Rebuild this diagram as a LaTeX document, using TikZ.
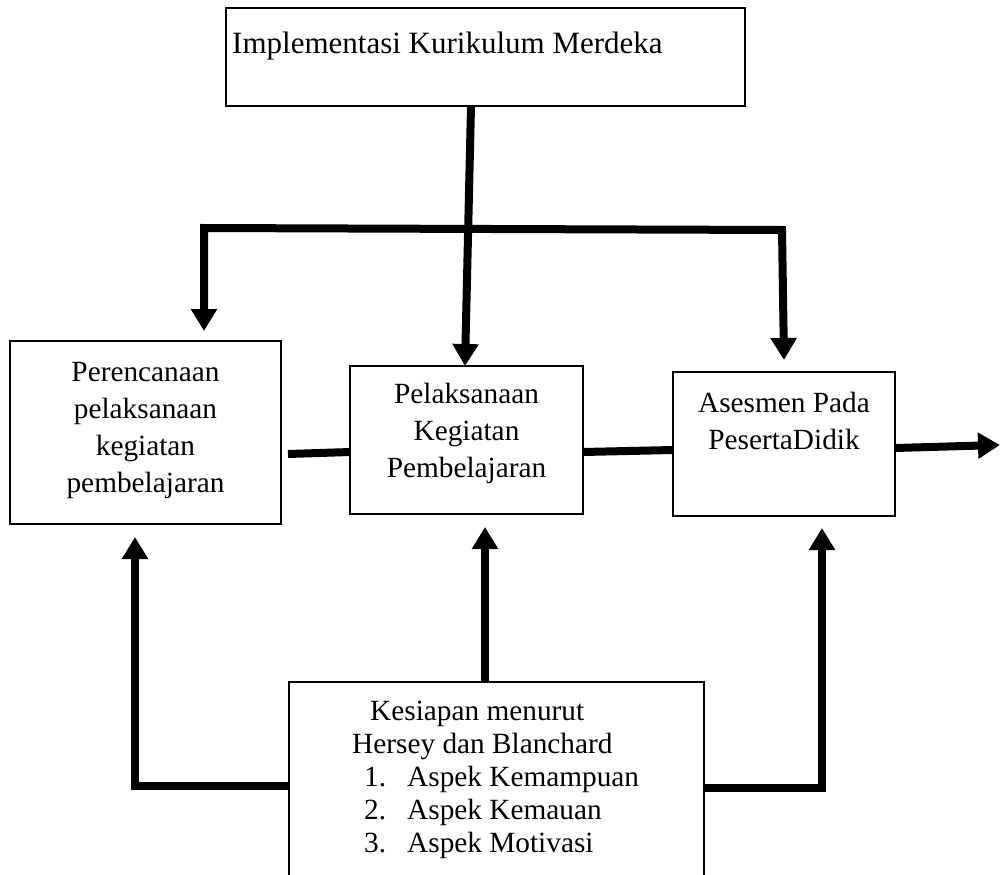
\documentclass[tikz,border=0pt]{standalone}
\usepackage{fontspec}
\setmainfont{Liberation Serif}
\usetikzlibrary{arrows.meta,calc}
\begin{document}
\begin{tikzpicture}[x=1pt,y=-1pt,
  box/.style={draw,line width=1.4pt,inner sep=0pt,outer sep=0pt},
  txt/.style={font=\fontsize{29.3}{37}\selectfont,inner sep=0pt,align=center},
  conn/.style={line width=8pt},
  tip/.style={-{Triangle[width=25pt,length=22pt]}},
  tips/.style={{Triangle[width=25pt,length=22pt]}-{Triangle[width=25pt,length=22pt]}}]
\clip (0,0) rectangle (1001,875);
\fill[white] (0,0) rectangle (1001,875);
% boxes
\node[box,minimum width=519pt,minimum height=98pt] (top) at (485.5,57) {};
\node[box,minimum width=271pt,minimum height=183pt] (L) at (145.5,432.5) {};
\node[box,minimum width=233pt,minimum height=148pt] (M) at (466.5,440) {};
\node[box,minimum width=222pt,minimum height=144pt] (R) at (784,444) {};
\node[box,minimum width=415pt,minimum height=218pt] (B) at (496.5,791) {};
% texts
\node[txt,anchor=west,font=\fontsize{31}{37}\selectfont] (toptext) at (232,46) {Implementasi Kurikulum Merdeka};
\node[txt] (Ltext) at (145.5,431) {Perencanaan\\pelaksanaan\\kegiatan\\pembelajaran};
\node[txt] (Mtext) at (466.5,433) {Pelaksanaan\\Kegiatan\\Pembelajaran};
\node[txt] (Rtext) at (784,421) {Asesmen Pada\\PesertaDidik};
\node[txt,anchor=base west] (b1) at (370,720) {Kesiapan menurut};
\node[txt,anchor=base west] (b2) at (352,753) {Hersey dan Blanchard};
\node[txt,anchor=base west] (n1) at (364,786) {1.};
\node[txt,anchor=base west] (i1) at (407,786) {Aspek Kemampuan};
\node[txt,anchor=base west] (n2) at (364,819) {2.};
\node[txt,anchor=base west] (i2) at (407,819) {Aspek Kemauan};
\node[txt,anchor=base west] (n3) at (364,852) {3.};
\node[txt,anchor=base west] (i3) at (407,852) {Aspek Motivasi};
% connectors
\coordinate (bl) at (204,228);
\coordinate (br) at (782,230);
\coordinate (out) at (1000,445);
\draw[conn,tip] ($(top.south)+(-14.5,0)$) -- ($(M.north)+(-1.5,0)$);
\draw[conn,tips] ($(L.north)+(58.5,-10)$) -- (bl) -- (br) -- ($(R.north)+(0,-12)$);
\draw[conn] ($(L.east)+(7,21.5)$) -- ($(M.west)+(0,12)$);
\draw[conn] ($(M.east)+(0,12)$) -- ($(R.west)+(0,6)$);
\draw[conn,tip] ($(R.east)+(0,4)$) -- (out);
\draw[conn,tip] ($(B.north)+(-11.5,0)$) -- ($(M.south)+(18.5,13)$);
\draw[conn,tip] ($(B.west)+(0,-5)$) -| ($(L.south)+(-10.5,13)$);
\draw[conn,tip] ($(B.east)+(0,-3)$) -| ($(R.south)+(38,12)$);
\end{tikzpicture}
\end{document}
